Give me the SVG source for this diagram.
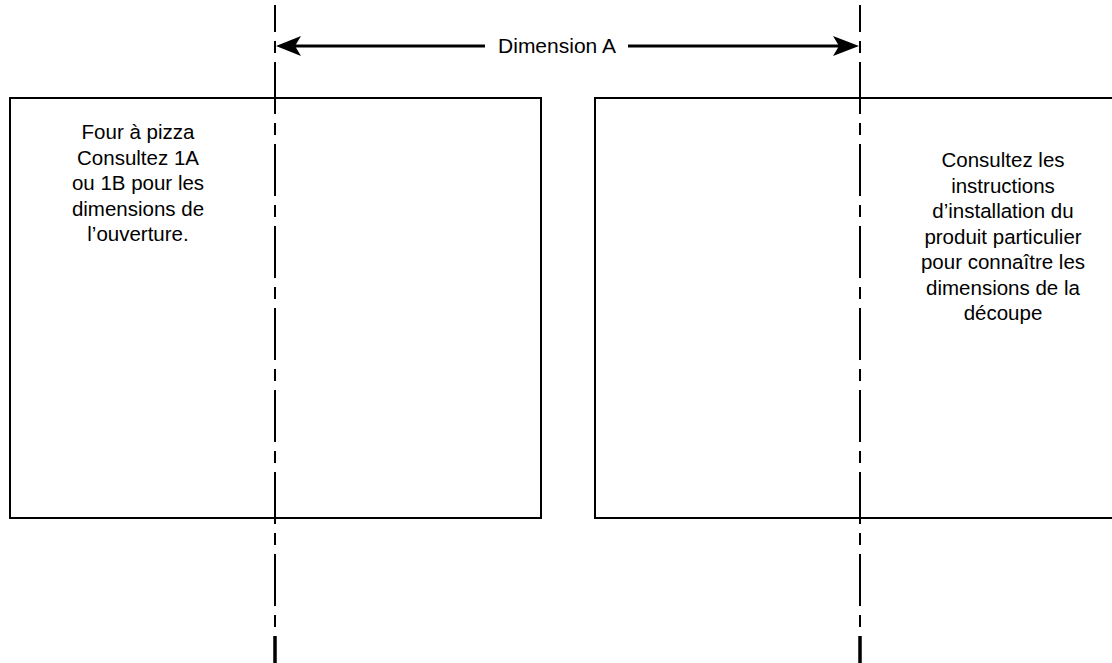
<svg xmlns="http://www.w3.org/2000/svg" width="1112" height="663" viewBox="0 0 1112 663">
<style>
.box{fill:#fff;stroke:#000;stroke-width:2}
.t{font-family:"Liberation Sans",Arial,sans-serif;font-size:20.5px;fill:#000;text-anchor:middle}
.cl{fill:none;stroke:#000;stroke-width:2;stroke-dasharray:52 9 12 9;stroke-dashoffset:25}
.dim{fill:none;stroke:#000;stroke-width:3}
</style>
<rect width="1112" height="663" fill="#fff"/>
<g id="node-left">
<rect class="box" x="10" y="98" width="531" height="420"/>
<text class="t" x="138"><tspan x="138" y="139">Four à pizza</tspan><tspan x="138" y="164.5">Consultez 1A</tspan><tspan x="138" y="190">ou 1B pour les</tspan><tspan x="138" y="215.5">dimensions de</tspan><tspan x="138" y="241">l’ouverture.</tspan></text>
</g>
<g id="node-right">
<rect class="box" x="595" y="98" width="530" height="420"/>
<text class="t" x="1003"><tspan x="1003" y="167">Consultez les</tspan><tspan x="1003" y="192.5">instructions</tspan><tspan x="1003" y="218">d’installation du</tspan><tspan x="1003" y="243.5">produit particulier</tspan><tspan x="1003" y="269">pour connaître les</tspan><tspan x="1003" y="294.5">dimensions de la</tspan><tspan x="1003" y="320">découpe</tspan></text>
</g>
<g id="connectors">
<path class="cl" d="M275 5V629"/>
<path class="cl" d="M860 5V629"/>
<path d="M275 636V663M860 636V663" stroke="#000" stroke-width="3.5"/>
<path class="dim" d="M285 46H485M628 46H850"/>
<polygon points="276,46 301,36 295,46 301,56" fill="#000"/>
<polygon points="859,46 833,36 839,46 833,56" fill="#000"/>
<text class="t" x="557" y="53" style="font-size:21px">Dimension A</text>
</g>
</svg>
